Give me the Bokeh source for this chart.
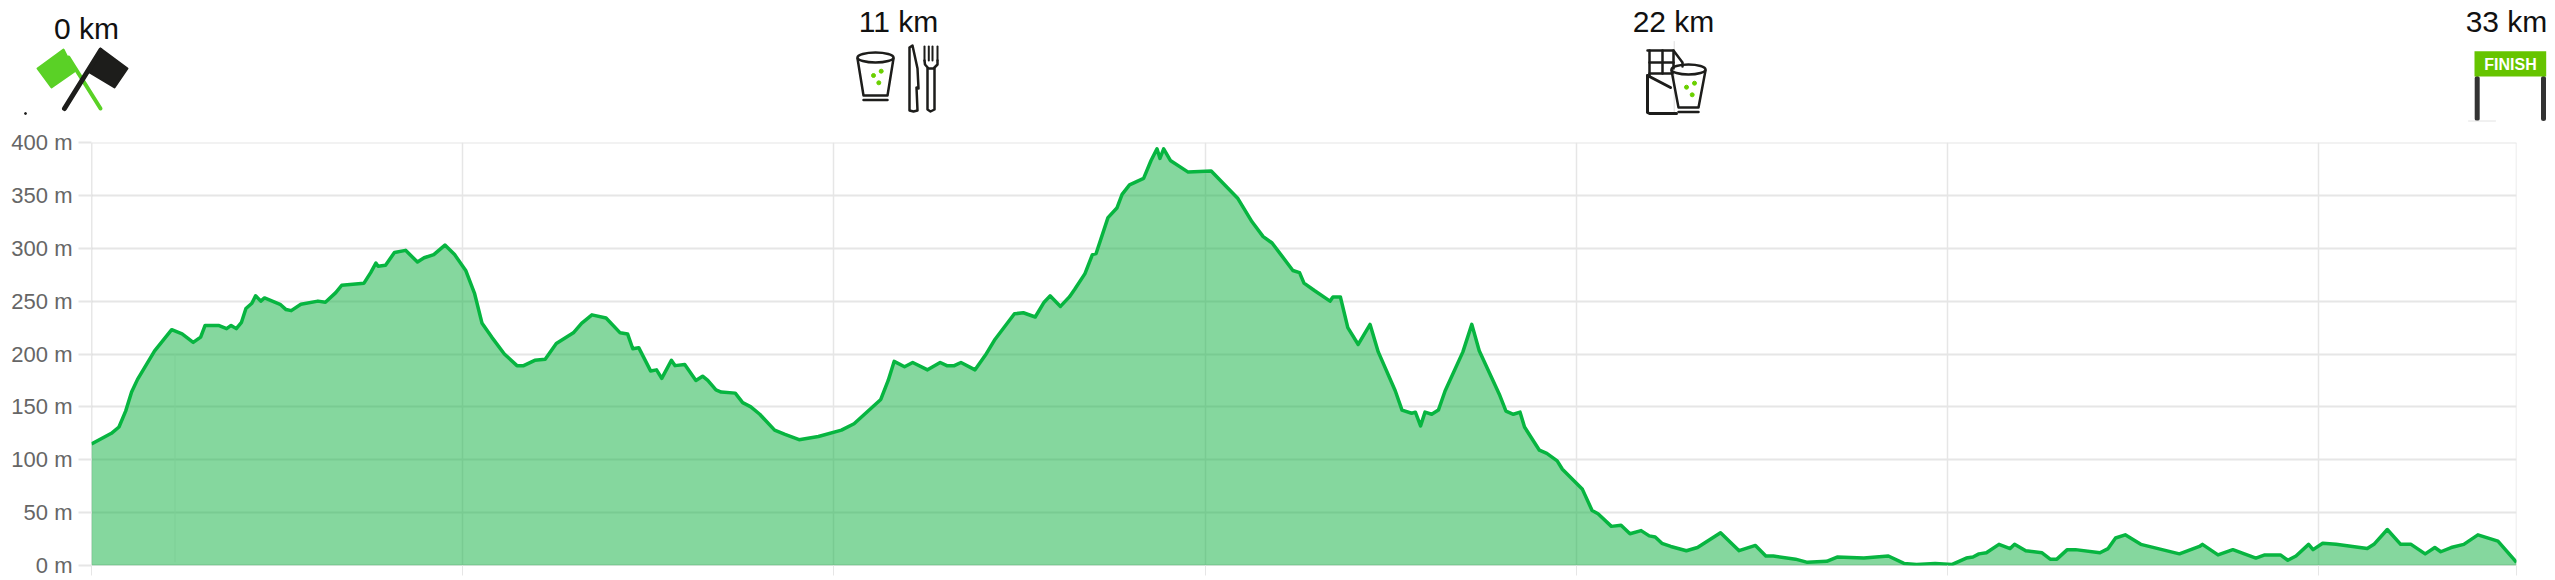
from bokeh.plotting import figure
from bokeh.embed import file_html
from bokeh.resources import INLINE
from bokeh.models import Range1d, FixedTicker, Span, BoxAnnotation
from bokeh.core.properties import value

elev_km = [0,.268,.37,.46,.54,.62,.85,1.08,1.22,1.37,1.47,1.53,1.71,1.82,1.88,1.95,2.02,2.08,2.16,2.21,2.28,2.33,2.54,2.62,2.69,2.82,3.05,3.15,3.29,3.37,3.67,3.76,3.83,3.86,3.96,4.08,4.23,4.39,4.48,4.61,4.76,4.89,5.04,5.16,5.26,5.39,5.56,5.73,5.82,5.97,6.11,6.26,6.49,6.60,6.74,6.93,7.12,7.22,7.29,7.37,7.53,7.61,7.68,7.81,7.86,7.99,8.14,8.23,8.30,8.41,8.48,8.67,8.77,8.88,9.0,9.2,9.34,9.53,9.79,10.10,10.27,10.63,
10.73,10.81,10.95,11.06,11.26,11.43,11.52,11.62,11.71,11.90,12.04,12.17,12.43,12.55,12.71,12.83,12.91,13.05,13.17,13.24,13.38,13.48,13.53,13.69,13.81,13.88,13.98,14.17,14.27,14.35,14.39,14.44,14.53,14.77,15.08,15.44,15.63,15.78,15.90,16.18,16.27,16.33,16.47,16.68,16.72,16.82,16.92,17.06,17.22,17.33,17.56,17.65,17.78,17.83,17.90,17.96,18.05,18.14,18.23,18.47,18.59,18.69,18.96,19.05,19.15,19.24,19.30,19.39,19.50,19.60,19.74,19.81,20.08,
20.21,20.29,20.47,20.6,20.72,20.87,20.98,21.06,21.15,21.27,21.48,21.63,21.94,22.19,22.41,22.55,22.65,22.95,23.11,23.37,23.51,23.87,24.2,24.41,24.58,24.83,25.06,25.25,25.34,25.42,25.52,25.69,25.84,25.9,26.05,26.27,26.38,26.47,26.61,26.72,27.05,27.16,27.26,27.39,27.6,28.12,28.39,28.43,28.64,28.84,29.15,29.27,29.48,29.58,29.69,29.86,29.92,30.05,30.23,30.65,30.74,30.92,31.1,31.24,31.43,31.56,31.64,31.78,31.95,32.14,32.41,32.66]
elev_m = [115,125,131,146,164,176,203,223,219,211,216,227,227,224,227,224,230,243,248,255,250,253,247,242,241,247,250,249,258,265,267,277,286,283,284,296,298,287,291,294,303,294,279,257,229,216,200,189,189,194,195,210,220,229,237,234,220,219,205,206,184,185,177,194,189,190,175,179,175,166,164,163,154,150,143,128,124,119,122,128,134,157,
175,193,188,192,185,192,189,189,192,185,199,214,238,239,235,249,255,245,254,261,276,294,295,329,338,351,360,366,383,394,385,394,383,372,373,347,325,311,305,279,277,267,260,250,254,254,225,209,228,202,165,147,144,145,132,145,143,147,165,202,228,203,162,146,143,145,131,121,109,106,99,91,72,
52,49,37,38,30,33,28,27,21,18,14,17,31,14,19,9,9,6,3,4,8,7,9,2,1,2,1,7,8,11,12,20,16,20,14,12,6,6,15,15,12,16,26,29,20,11,18,20,10,15,7,10,10,5,9,20,15,21,20,16,20,34,20,20,11,17,13,17,20,29,23,3]

y_ticks = [0, 50, 100, 150, 200, 250, 300, 350, 400]
x_ticks = [0, 5, 10, 15, 20, 25, 30, 32.66]
stop_labels = ["0 km", "11 km", "22 km", "33 km"]

FONT = "Liberation Sans"
DARK = "#1d1d1b"
LIME = "#5ad126"
DOT = "#6ad000"
GRID = "#e6e6e6"

# ---------- header strip: coordinates equal window pixels ----------
h = figure(width=2555, height=122, x_range=Range1d(0, 2555), y_range=Range1d(122, 0),
           x_axis_type=None, y_axis_type=None, output_backend="svg", toolbar_location=None,
           min_border=0, outline_line_color=None)
h.grid.visible = False

h.text(x=[86, 898, 1673, 2506], y=[28, 21, 21, 21], text=stop_labels,
       text_font=value(FONT), text_font_size="30px", text_color="#111111",
       text_align="center", text_baseline="middle")

def stroke(xs, ys, w=2.5, c=DARK):
    h.line(xs, ys, line_width=w, line_color=c, line_join="round", line_cap="round")

# start flags
stroke([68, 100], [57, 108], 4, LIME)
h.patch([37, 63, 74, 51], [68, 49, 71, 87], fill_color=LIME, line_color=LIME, line_width=2, line_join="round")
h.patch([100, 127, 114, 89], [48, 68, 87, 72], fill_color=DARK, line_color=DARK, line_width=2, line_join="round")
stroke([100, 64], [50, 108], 5)
h.scatter([25], [113], size=2, color=DARK)

def glass(cx, top, bottom, rx, brx):
    h.ellipse([cx], [top], width=2 * rx, height=10, fill_color=None, line_color=DARK, line_width=2.5)
    stroke([cx - rx, cx - brx, cx + brx, cx + rx], [top + 1, bottom, bottom, top + 1])
    stroke([cx - brx, cx + brx], [bottom + 4.5, bottom + 4.5], 2.5)

# glass + cutlery at 11 km
glass(875, 57, 95, 18, 12)
h.scatter([873, 880.7, 878.3], [75, 70.7, 82.3], size=4, color=DOT)
stroke([909, 912, 917, 918, 916, 917, 913, 909, 909], [47, 45, 68, 88, 87, 110, 111, 110, 47])
for tx in (924, 928.3, 932, 937):
    stroke([tx, tx], [46, 60], 2)
stroke([924, 924.5, 928, 933, 937, 937], [60, 64, 68, 68, 64, 60], 2.5)
stroke([927, 927, 930, 934, 934], [68, 109, 111, 109, 68], 2.5)

# chocolate + glass at 22 km
stroke([1673.7, 1673.7], [41, 113], 1, "#dddddd")
stroke([1647, 1673, 1682, 1682], [50, 50, 62, 66], 2.5)
stroke([1649, 1649], [50, 75], 2.5)
stroke([1649, 1673], [62, 62], 2.5)
stroke([1662, 1662], [50, 73], 2.5)
stroke([1649, 1672], [73, 73], 2.5)
stroke([1673, 1673], [50, 68], 2.5)
stroke([1647, 1647, 1649, 1676], [75, 112, 113, 113], 3)
stroke([1647, 1670], [75, 87], 3)
glass(1688, 69, 107, 17, 10)
h.scatter([1686, 1694, 1691.7], [86.7, 82.7, 94.3], size=4, color=DOT)

# finish arch at 33 km
stroke([2476.7, 2476.7], [78, 118], 5, "#333333")
stroke([2543, 2543], [78, 118], 5, "#333333")
stroke([2468, 2495], [120.5, 120.5], 1, "#e2e2e2")
h.quad(left=[2474], right=[2545.7], top=[50.7], bottom=[76], fill_color="#66c400", line_color=None)
h.text(x=[2510], y=[63.5], text=["FINISH"], text_font=value(FONT), text_font_style="bold",
       text_font_size="16px", text_color="#ffffff", text_align="center", text_baseline="middle")

# ---------- elevation profile ----------
p = figure(width=2555, height=458, x_range=Range1d(0, 32.66), y_range=Range1d(0, 400),
           output_backend="svg", toolbar_location=None, outline_line_color=None,
           min_border_left=91, min_border_right=39, min_border_top=20, min_border_bottom=15)

p.xaxis.ticker = FixedTicker(ticks=x_ticks)
p.yaxis.ticker = FixedTicker(ticks=y_ticks)
p.xaxis.major_label_overrides = {t: "" for t in x_ticks}
p.xaxis.major_label_text_font_size = "0px"
p.xaxis.major_label_standoff = 0
p.xaxis.major_tick_out = 10
p.xaxis.major_tick_in = 0
p.xaxis.major_tick_line_color = GRID
p.xaxis.minor_tick_line_color = None
p.xaxis.axis_line_color = None
p.yaxis.major_label_overrides = {t: f"{t} m" for t in y_ticks}
p.yaxis.major_label_text_font = FONT
p.yaxis.major_label_text_font_size = "22px"
p.yaxis.major_label_text_color = "#666666"
p.yaxis.major_label_standoff = 6
p.yaxis.major_tick_out = 13
p.yaxis.major_tick_in = 0
p.yaxis.major_tick_line_color = GRID
p.yaxis.major_tick_line_width = 2
p.yaxis.minor_tick_line_color = None
p.yaxis.axis_line_color = None

p.ygrid.grid_line_color = GRID
p.ygrid.grid_line_width = 2
p.xgrid.grid_line_color = GRID
p.xgrid.grid_line_width = 1.5

p.add_layout(Span(location=0, dimension="height", line_color="#cfcfcf", line_width=1.5, level="underlay"))
p.add_layout(Span(location=x_ticks[-1], dimension="height", line_color=GRID, line_width=1.5, level="underlay"))
p.add_layout(Span(location=y_ticks[-1], dimension="width", line_color=GRID, line_width=2, level="underlay"))
p.add_layout(Span(location=y_ticks[0], dimension="width", line_color="#d0d0d0", line_width=2, level="underlay"))
p.add_layout(BoxAnnotation(left=83, right=84, left_units="screen", right_units="screen",
                           top=200, bottom=3, fill_color="#eeeeee", fill_alpha=1, line_color=None, level="underlay"))

p.varea(x=elev_km, y1=[0] * len(elev_km), y2=elev_m, fill_color="#0bb03e", fill_alpha=0.5)
p.line(elev_km, elev_m, line_color="#07b540", line_width=3.5, line_join="round")

open("out.html", "w").write(file_html([h, p], INLINE))
